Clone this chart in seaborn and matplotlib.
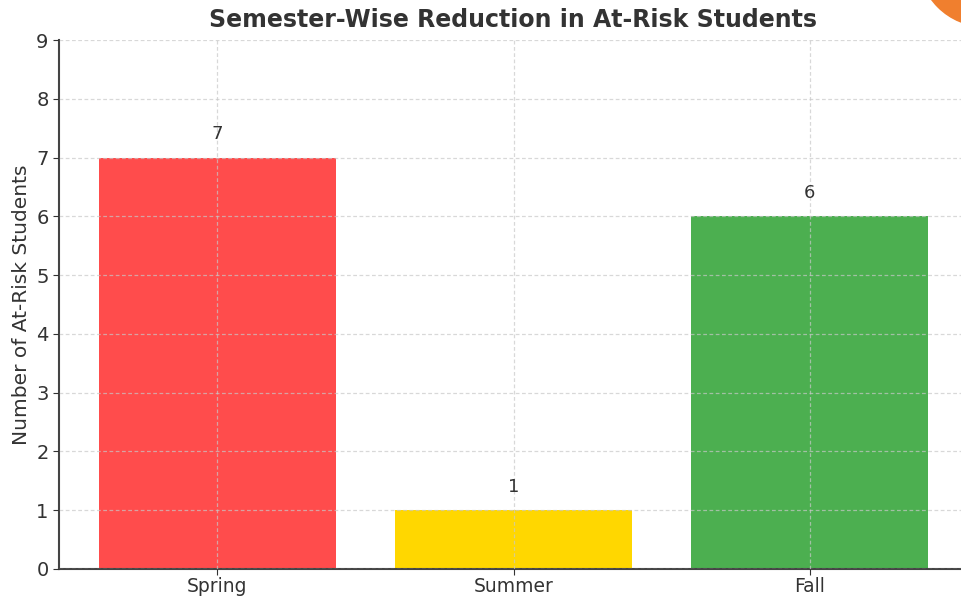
import matplotlib.pyplot as plt
import matplotlib.patches as mpatches
import pandas as pd
import seaborn as sns

semesters = ["Spring", "Summer", "Fall"]
at_risk = [7, 1, 6]
bar_colors = ["#FF4C4C", "#FFD700", "#4CAF50"]

df = pd.DataFrame({"semester": semesters, "students": at_risk})

W, H = 962, 596
fig = plt.figure(figsize=(W / 100, H / 100), dpi=100)
# the picture is cropped on the right, so the axes runs just past the figure edge
ax = fig.add_axes([59 / W, 27 / H, 912 / W, 529 / H])

sns.barplot(data=df, x="semester", y="students", hue="semester",
            palette=bar_colors, width=0.8, saturation=1, legend=False, ax=ax)

for i, v in enumerate(at_risk):
    ax.text(i, v + 0.25, str(v), ha="center", va="bottom",
            fontsize=13, color="#333333")

ax.set_xlim(-0.535, 2.545)
ax.set_ylim(0, 9)
ax.set_yticks(range(0, 10))
ax.set_xlabel("")
ax.set_ylabel("Number of At-Risk Students", fontsize=14.5, color="#333333")
ax.tick_params(labelsize=14, colors="#333333", length=4)
ax.tick_params(axis="x", pad=1.5, labelsize=13.5)
ax.grid(True, linestyle=(0, (3, 2)), color="#c8c8c8", alpha=0.7, linewidth=0.9)
ax.set_axisbelow(False)
for s in ["top", "right"]:
    ax.spines[s].set_visible(False)
for s in ["left", "bottom"]:
    ax.spines[s].set_color("#444444")
    ax.spines[s].set_linewidth(1.5)

fig.text(513 / W, 1 - 20 / H, "Semester-Wise Reduction in At-Risk Students",
         ha="center", va="center", fontsize=17, fontweight="bold", color="#333333")

# orange corner decoration
fig.patches.append(mpatches.Circle((985, H + 40), 66.5, transform=None,
                                   color="#F07F2E", figure=fig))

fig.savefig("out.png", dpi=100)
